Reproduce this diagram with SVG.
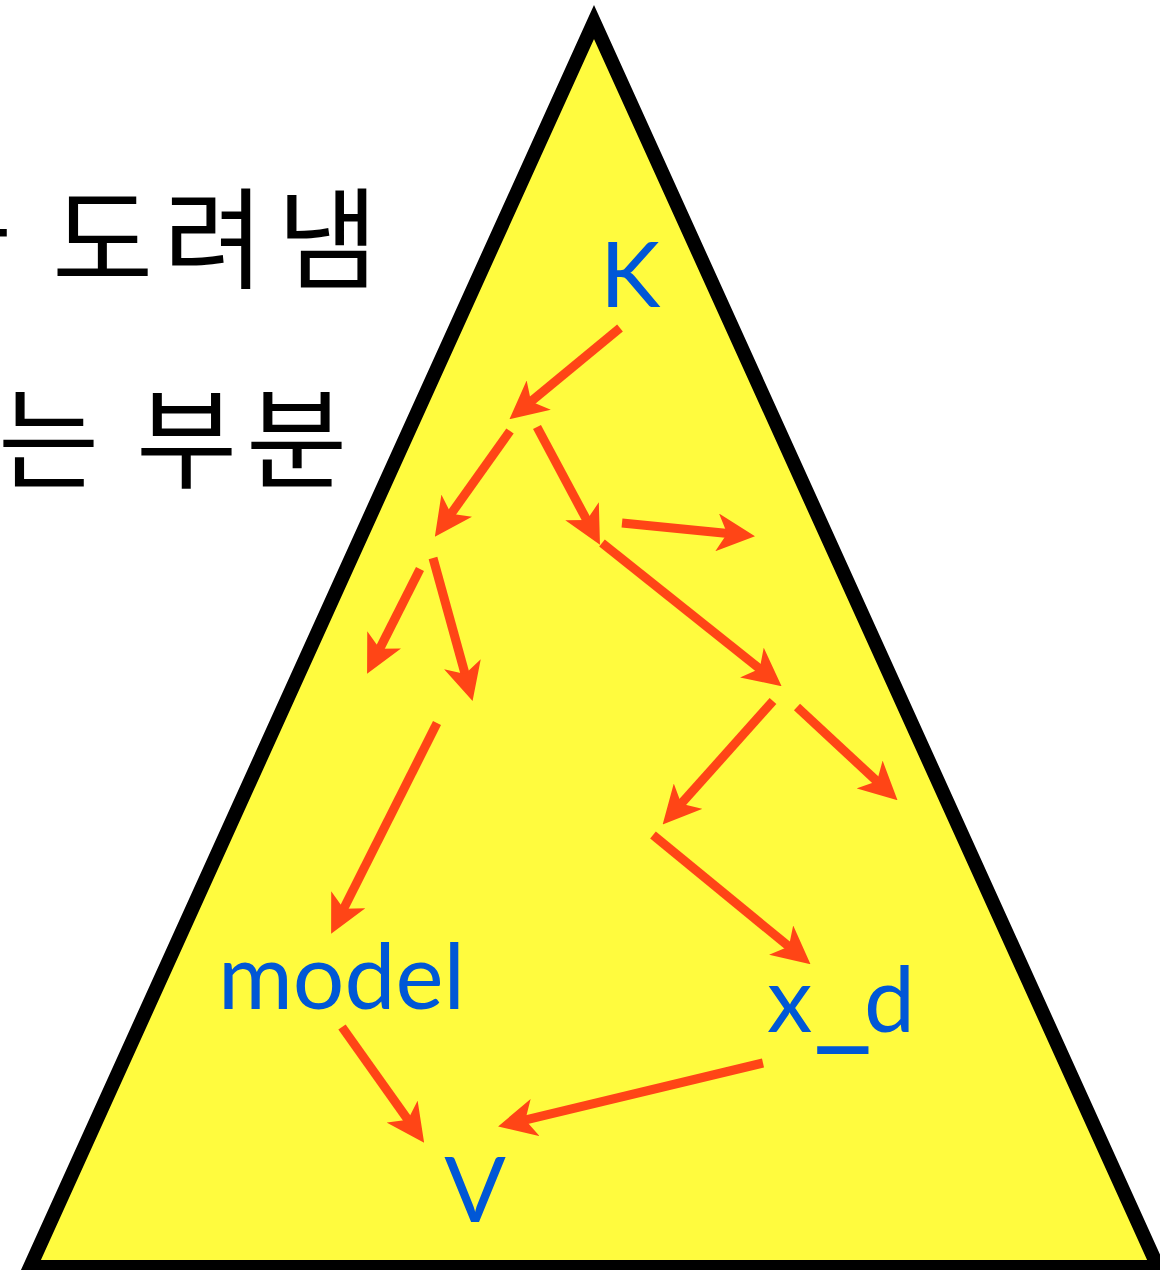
<svg xmlns="http://www.w3.org/2000/svg" width="1160" height="1270" viewBox="0 0 1160 1270">
<style>
.ko{font-family:"Noto Sans CJK KR","Noto Sans",sans-serif;font-size:110px;fill:#000}
.lbl{font-family:Lato,"Liberation Sans",sans-serif;font-size:91px;fill:#0057D6}
.arr{stroke:#FF4516;stroke-width:9;fill:none;marker-end:url(#ah)}
</style>
<defs>
<marker id="ah" viewBox="0 0 38 38" markerWidth="38" markerHeight="38" refX="16" refY="19" orient="auto" markerUnits="userSpaceOnUse">
<path d="M0,0 L38,19 L0,38 L10,19 Z" fill="#FF4516"/>
</marker>
</defs>
<rect width="1160" height="1270" fill="#fff"/>
<g id="korean-text">
<text class="ko" y="280"><tspan x="-91">가</tspan><tspan x="52">도</tspan><tspan x="163">려</tspan><tspan x="277">냄</tspan></text>
<text class="ko" y="480"><tspan x="-2">는</tspan><tspan x="136">부</tspan><tspan x="246">분</tspan></text>
</g>
<g id="triangle">
<polygon points="594,22 30,1267 1158,1267" fill="#FFFB3E" stroke="#000" stroke-width="14" stroke-linejoin="miter" stroke-miterlimit="10"/>
</g>
<g id="connectors">
<line class="arr" x1="620" y1="328" x2="526.4" y2="405.3"/>
<line class="arr" x1="510" y1="431" x2="447.6" y2="518.7"/>
<line class="arr" x1="537" y1="427" x2="589.6" y2="525.4"/>
<line class="arr" x1="622" y1="523" x2="733.1" y2="534"/>
<line class="arr" x1="602" y1="543" x2="764.4" y2="672.5"/>
<line class="arr" x1="420" y1="569" x2="377" y2="654.1"/>
<line class="arr" x1="433" y1="558" x2="466.7" y2="679.7"/>
<line class="arr" x1="437" y1="723" x2="341" y2="914.1"/>
<line class="arr" x1="773" y1="701" x2="677.3" y2="808.1"/>
<line class="arr" x1="797" y1="707" x2="881.4" y2="785.4"/>
<line class="arr" x1="653" y1="835" x2="793.5" y2="950.3"/>
<line class="arr" x1="342" y1="1027" x2="411.4" y2="1124.7"/>
<line class="arr" x1="763" y1="1063" x2="519.5" y2="1121.3"/>
</g>
<g id="node-K"><text class="lbl" x="600" y="307">K</text></g>
<g id="node-model"><text class="lbl" x="218" y="1009">model</text></g>
<g id="node-x_d"><text class="lbl" y="1032"><tspan x="767">x</tspan><tspan x="813" y="1035" font-size="130">_</tspan><tspan x="864" y="1032">d</tspan></text></g>
<g id="node-V"><text class="lbl" x="475" y="1222" text-anchor="middle">V</text></g>
</svg>
